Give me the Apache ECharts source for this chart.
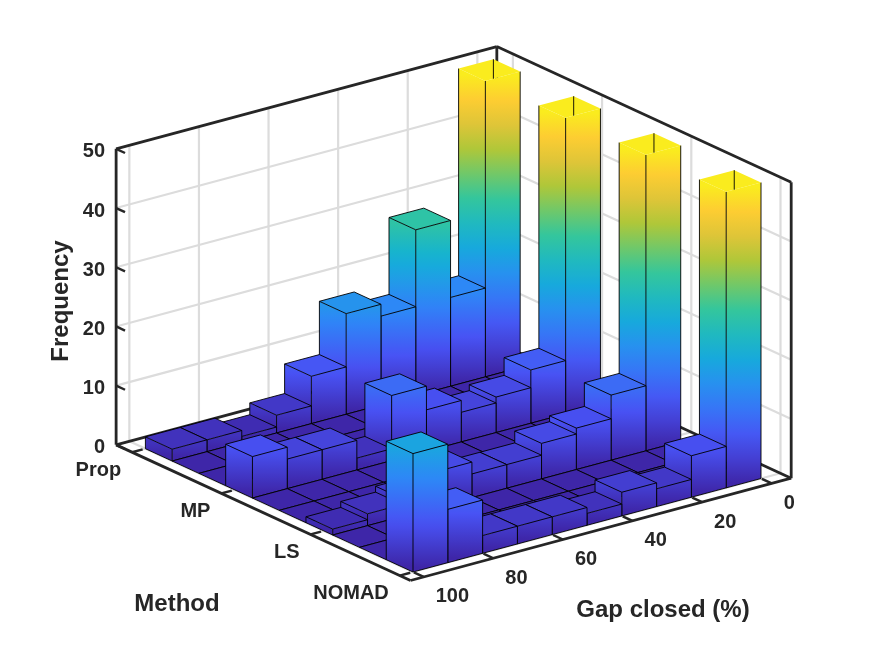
<!DOCTYPE html>
<html>
<head>
    <meta charset="UTF-8">
    <script src="https://cdn.jsdelivr.net/npm/echarts@6/dist/echarts.min.js"></script>
    <style>
        html, body { margin: 0; padding: 0; background: #fff; }
        #main { width: 875px; height: 656px; }
    </style>
</head>
<body>
<div id="main"></div>
<script>
    // frequency per "gap closed" bin (0-10, 10-20, ..., 90-100) for each method
    var freqProp  = [52, 15, 28, 15, 17, 8, 3, 1, 2, 2];
    var freqMP    = [51, 9, 6, 5, 7, 11, 2, 5, 5, 7];
    var freqLS    = [51, 11, 7, 6, 4, 4, 6, 3, 2, 1];
    var freqNOMAD = [51, 7, 3, 4, 2, 3, 3, 3, 9, 20];

    var methods = ['Prop', 'MP', 'LS', 'NOMAD'];
    var methodTicks = [1, 2, 3, 4];
    // histogram bins along the method axis (10 bins between 1 and 4), methods fall in bins 0,3,6,9
    var methodEdges = [1, 1.3, 1.6, 1.9, 2.2, 2.5, 2.8, 3.1, 3.4, 3.7, 4.0];
    var methodBin = [0, 3, 6, 9];
    var gapEdges = [0, 10, 20, 30, 40, 50, 60, 70, 80, 90, 100];
    var gapTicks = [0, 20, 40, 60, 80, 100];
    var zTicks = [0, 10, 20, 30, 40, 50];

    var gapLim = [-5.6, 103.8];
    var methodLim = [0.82, 4.12];
    var zLim = [0, 50];

    // fixed 3d view (orthographic), maps (gap, method, z) to the page
    var view = {ox: 413, oy: 572, g0: 100, m0: 4, gx: -3.48, gy: 0.935, mx: 89.2, my: 41.1, zy: -5.92};
    function project(g, m, z) {
        return [view.ox + (g - view.g0) * view.gx + (m - view.m0) * view.mx,
                view.oy + (g - view.g0) * view.gy + (m - view.m0) * view.my + z * view.zy];
    }

    // parula
    var parula = ['#3e26a8', '#4852f4', '#2e87f7', '#12b1d6', '#37c897', '#abc739', '#fec338', '#f9fb15'];
    function colorAt(t) {
        t = Math.max(0, Math.min(1, t));
        var n = parula.length - 1, i = Math.min(n - 1, Math.floor(t * n)), f = t * n - i;
        var a = echarts.color.parse(parula[i]), b = echarts.color.parse(parula[i + 1]);
        return 'rgb(' + [0, 1, 2].map(function (k) { return Math.round(a[k] + (b[k] - a[k]) * f); }).join(',') + ')';
    }

    var rows = [freqProp, freqMP, freqLS, freqNOMAD];
    var colorMax = Math.max.apply(null, [].concat(freqProp, freqMP, freqLS, freqNOMAD));

    // bars, back to front
    var bars = [];
    for (var j = 0; j < methodEdges.length - 1; j++) {
        var r = methodBin.indexOf(j);
        for (var k = 0; k < gapEdges.length - 1; k++) {
            bars.push([gapEdges[k], gapEdges[k + 1], methodEdges[j], methodEdges[j + 1], r >= 0 ? rows[r][k] : 0]);
        }
    }

    // grid lines and back box edges: [g0, m0, z0, g1, m1, z1, kind]
    var gl = gapLim, ml = methodLim, zl = zLim;
    var lines = [];
    zTicks.forEach(function (z) {
        if (z <= zl[0] || z >= zl[1]) return;
        lines.push([gl[1], ml[0], z, gl[0], ml[0], z, 0]);
        lines.push([gl[0], ml[0], z, gl[0], ml[1], z, 0]);
    });
    gapTicks.forEach(function (g) {
        lines.push([g, ml[0], zl[0], g, ml[0], zl[1], 0]);
        lines.push([g, ml[0], 0, g, ml[1], 0, 0]);
    });
    methodTicks.forEach(function (m) {
        lines.push([gl[0], m, zl[0], gl[0], m, zl[1], 0]);
        lines.push([gl[0], m, 0, gl[1], m, 0, 0]);
    });
    lines.push([gl[1], ml[0], zl[1], gl[0], ml[0], zl[1], 1]);
    lines.push([gl[0], ml[0], zl[1], gl[0], ml[1], zl[1], 1]);
    lines.push([gl[0], ml[1], 0, gl[0], ml[1], zl[1], 1]);
    lines.push([gl[0], ml[0], 0, gl[0], ml[0], zl[1], 1]);
    lines.push([gl[1], ml[0], 0, gl[0], ml[0], 0, 1]);
    lines.push([gl[0], ml[0], 0, gl[0], ml[1], 0, 1]);

    // front axes, ticks and labels: [axis, value]  (0 = z, 1 = method, 2 = gap)
    var ticks = [];
    zTicks.forEach(function (z) { ticks.push([0, z]); });
    methodTicks.forEach(function (m) { ticks.push([1, m]); });
    gapTicks.forEach(function (g) { ticks.push([2, g]); });

    var axisColor = '#262626';
    var tickFont = {fontFamily: '"Liberation Sans", Arial, sans-serif', fontWeight: 'bold', fontSize: 20};
    var nameFont = {fontFamily: '"Liberation Sans", Arial, sans-serif', fontWeight: 'bold', fontSize: 24};

    // vertical colour ramp for a side face (bounding-box gradient, sampled along z)
    function sideFill(pts, b0, b1, zpx, h) {
        var ys = pts.map(function (p) { return p[1]; });
        var top = Math.min.apply(null, ys), bot = Math.max.apply(null, ys), span = bot - top;
        var mid = (b0[1] + b1[1]) / 2;
        var cs = [];
        for (var i = 0; i <= 12; i++) {
            var z = h * i / 12;
            var off = (mid - z * zpx - top) / span;
            cs.unshift({offset: Math.max(0, Math.min(1, off)), color: colorAt(z / colorMax)});
        }
        return new echarts.graphic.LinearGradient(0, 0, 0, 1, cs);
    }

    function renderBar(params, api) {
        var g0 = api.value(0), g1 = api.value(1), m0 = api.value(2), m1 = api.value(3), v = api.value(4);
        var h = Math.min(v, zLim[1]);
        var P = function (g, m, z) { return api.coord(project(g, m, z)); };
        var edge = {stroke: '#000', lineWidth: 0.9, fill: 'none'};
        var kids = [];
        var pl = P(g1, m0, h), pf = P(g1, m1, h), pr = P(g0, m1, h), pb = P(g0, m0, h);
        if (h > 0) {
            var bl = P(g1, m0, 0), bf = P(g1, m1, 0), br = P(g0, m1, 0);
            var zpx = (bf[1] - pf[1]) / h;
            var left = [bl, bf, pf, pl], front = [bf, br, pr, pf];
            kids.push({type: 'polygon', shape: {points: left}, style: {fill: sideFill(left, bl, bf, zpx, h)}});
            kids.push({type: 'polygon', shape: {points: front}, style: {fill: sideFill(front, bf, br, zpx, h)}});
            kids.push({type: 'polyline', shape: {points: [pl, bl, bf, br, pr]}, style: edge});
            kids.push({type: 'line', shape: {x1: bf[0], y1: bf[1], x2: pf[0], y2: pf[1]}, style: edge});
        }
        if (v > zLim[1]) {
            // clipped at the z limit: the bar is open at the top
            kids.push({type: 'polygon', shape: {points: [pl, pf, pr, pb]}, style: {fill: colorAt(h / colorMax)}});
            var a = pb[0] >= pf[0] ? [pf, pr] : [pl, pf];
            var t = (pb[0] - a[0][0]) / (a[1][0] - a[0][0]);
            var yr = a[0][1] + t * (a[1][1] - a[0][1]);
            kids.push({type: 'line', shape: {x1: pb[0], y1: pb[1], x2: pb[0], y2: yr}, style: edge});
        } else {
            kids.push({type: 'polygon', shape: {points: [pl, pf, pr, pb]},
                style: {fill: colorAt(h / colorMax), stroke: '#000', lineWidth: 0.9}});
        }
        return {type: 'group', children: kids};
    }

    function renderLine(params, api) {
        var p0 = api.coord(project(api.value(0), api.value(1), api.value(2)));
        var p1 = api.coord(project(api.value(3), api.value(4), api.value(5)));
        var box = api.value(6) === 1;
        return {type: 'line', shape: {x1: p0[0], y1: p0[1], x2: p1[0], y2: p1[1]},
            style: {stroke: box ? axisColor : '#dcdcdc', lineWidth: box ? 2.8 : 2.2}};
    }

    function renderTick(params, api) {
        var axis = api.value(0), v = api.value(1), p0, p1, lab;
        if (axis === 0) {
            p0 = project(gapLim[1], methodLim[0], v); p1 = project(gapLim[1], methodLim[0] + 0.1, v);
            lab = {text: String(v), x: p0[0] - 11, y: p0[1] + 3, align: 'right'};
        } else if (axis === 1) {
            p0 = project(gapLim[1], v, 0); p1 = project(gapLim[1] - 3, v, 0);
            lab = {text: methods[methodTicks.indexOf(v)], x: p0[0] - 11, y: p0[1] + 18, align: 'right'};
        } else {
            p0 = project(v, methodLim[1], 0); p1 = project(v, methodLim[1] - 0.11, 0);
            lab = {text: String(v), x: p0[0] + 12, y: p0[1] + 20, align: 'left'};
        }
        p0 = api.coord(p0); p1 = api.coord(p1);
        return {type: 'group', children: [
            {type: 'line', shape: {x1: p0[0], y1: p0[1], x2: p1[0], y2: p1[1]},
                style: {stroke: axisColor, lineWidth: 2.4}},
            {type: 'text', x: lab.x, y: lab.y, style: Object.assign({text: lab.text, align: lab.align,
                verticalAlign: 'middle', fill: axisColor}, tickFont)}
        ]};
    }

    var axisLines = [
        [gapLim[1], methodLim[0], zLim[0], gapLim[1], methodLim[0], zLim[1], 1],
        [gapLim[1], methodLim[0], 0, gapLim[1], methodLim[1], 0, 1],
        [gapLim[1], methodLim[1], 0, gapLim[0], methodLim[1], 0, 1]
    ];

    var myChart = echarts.init(document.getElementById('main'));
    var option = {
        animation: false,
        backgroundColor: '#ffffff',
        grid: {left: 0, right: 0, top: 0, bottom: 0},
        xAxis: {type: 'value', min: 0, max: 875, show: false},
        yAxis: {type: 'value', min: 0, max: 656, inverse: true, show: false},
        graphic: [
            {type: 'text', x: 61, y: 301, rotation: Math.PI / 2,
                style: Object.assign({text: 'Frequency', align: 'center', verticalAlign: 'middle', fill: axisColor}, nameFont)},
            {type: 'text', x: 177, y: 604,
                style: Object.assign({text: 'Method', align: 'center', verticalAlign: 'middle', fill: axisColor}, nameFont)},
            {type: 'text', x: 663, y: 610,
                style: Object.assign({text: 'Gap closed (%)', align: 'center', verticalAlign: 'middle', fill: axisColor}, nameFont)}
        ],
        series: [
            {type: 'custom', silent: true, clip: false, renderItem: renderLine, data: lines, z: 1},
            {type: 'custom', silent: true, clip: false, renderItem: renderBar, data: bars, z: 2},
            {type: 'custom', silent: true, clip: false, renderItem: renderLine, data: axisLines, z: 3},
            {type: 'custom', silent: true, clip: false, renderItem: renderTick, data: ticks, z: 4}
        ]
    };
    myChart.setOption(option);
</script>
</body>
</html>
